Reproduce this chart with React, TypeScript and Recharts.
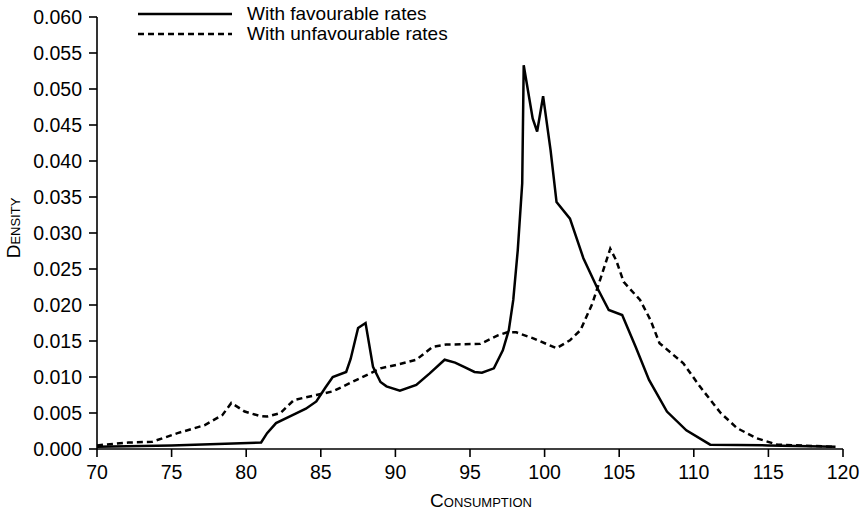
import React from 'react';
import { LineChart, Line, XAxis, YAxis, Legend } from 'recharts';

const favX = [70, 75, 81.0, 81.4, 82.0, 83.0, 84.0, 84.7, 85.3, 85.8, 86.7, 87.0, 87.5, 88.0, 88.5, 89.0, 89.4, 90.3, 91.4, 92.3, 93.3, 94.0, 94.6, 95.3, 95.8, 96.6, 97.2, 97.6, 97.9, 98.2, 98.5, 98.6, 99.2, 99.5, 99.9, 100.4, 100.8, 101.7, 102.6, 103.5, 104.3, 105.2, 106.1, 107.0, 108.2, 109.5, 111.1, 115, 119.5];
const favY = [0.0003, 0.0005, 0.0009, 0.0022, 0.0036, 0.0046, 0.0056, 0.0066, 0.0085, 0.0100, 0.0107, 0.0125, 0.0168, 0.0175, 0.0114, 0.0093, 0.0087, 0.0081, 0.0089, 0.0105, 0.0124, 0.0120, 0.0114, 0.0107, 0.0106, 0.0112, 0.0137, 0.0165, 0.0207, 0.0276, 0.0369, 0.0533, 0.0459, 0.0441, 0.0490, 0.0415, 0.0343, 0.0320, 0.0265, 0.0225, 0.0193, 0.0186, 0.0142, 0.0096, 0.0052, 0.0026, 0.0006, 0.0005, 0.0003];

const unfX = [70, 72.1, 73.7, 75.4, 77.2, 78.4, 79.0, 79.9, 80.9, 81.4, 82.3, 83.2, 84.7, 85.8, 87.4, 89.0, 90.3, 91.4, 92.5, 93.4, 95.7, 96.9, 97.5, 98.1, 99.2, 100.8, 101.7, 102.4, 103.2, 103.8, 104.4, 104.8, 105.3, 106.4, 107.1, 107.7, 109.3, 110.4, 111.8, 112.9, 114.2, 115.6, 119.5];
const unfY = [0.0005, 0.0009, 0.0010, 0.0022, 0.0033, 0.0047, 0.0064, 0.0052, 0.0046, 0.0045, 0.0050, 0.0068, 0.0075, 0.0080, 0.0096, 0.0112, 0.0118, 0.0124, 0.0142, 0.0145, 0.0146, 0.0158, 0.0162, 0.0162, 0.0154, 0.0140, 0.0151, 0.0165, 0.0202, 0.0240, 0.0278, 0.0262, 0.0232, 0.0207, 0.0179, 0.0147, 0.0119, 0.0087, 0.0050, 0.0029, 0.0015, 0.0006, 0.0003];

const xTicks = [70, 75, 80, 85, 90, 95, 100, 105, 110, 115, 120];
const yTicks = [0, 0.005, 0.01, 0.015, 0.02, 0.025, 0.03, 0.035, 0.04, 0.045, 0.05, 0.055, 0.06];

const seriesNames = ['With favourable rates', 'With unfavourable rates'];

const favData = favX.map((x, i) => ({ x, y: favY[i] }));
const unfData = unfX.map((x, i) => ({ x, y: unfY[i] }));

const FONT = '"Liberation Sans", Arial, Helvetica, sans-serif';

const LegendContent = (props: any) => {
  const payload = props.payload || [];
  return (
    <svg width={520} height={46} style={{ display: 'block', overflow: 'visible' }}>
      {payload.map((entry: any, i: number) => {
        const dash = entry?.payload?.strokeDasharray;
        const cy = 14 + i * 20;
        return (
          <g key={i}>
            <line x1={138} x2={232} y1={cy} y2={cy} stroke="#000" strokeWidth={2.5} strokeDasharray={dash} />
            <text x={247} y={cy + 6} fontSize={19} fontFamily={FONT} fill="#000">{entry.value}</text>
          </g>
        );
      })}
    </svg>
  );
};

const YLabel = (props: any) => {
  const vb = props.viewBox || { x: 0, y: 17, width: 97, height: 432 };
  const cx = vb.x + 13;
  const cy = vb.y + vb.height / 2 - 5;
  return (
    <text x={cx} y={cy} transform={`rotate(-90 ${cx} ${cy})`} textAnchor="middle" dominantBaseline="central"
      fontSize={19} fontFamily={FONT} fill="#000" style={{ fontVariant: 'small-caps' }}>Density</text>
  );
};

const XLabel = (props: any) => {
  const vb = props.viewBox || { x: 97, y: 449, width: 746, height: 62 };
  const cx = vb.x + vb.width / 2 + 11;
  const cy = vb.y + 58;
  return (
    <text x={cx} y={cy} textAnchor="middle" fontSize={19} fontFamily={FONT} fill="#000"
      style={{ fontVariant: 'small-caps' }}>Consumption</text>
  );
};

export default function App() {
  return (
    <div style={{ position: 'absolute', left: 0, top: 0, width: 861, height: 511, background: '#fff' }}>
      <LineChart width={861} height={511} margin={{ top: 17, right: 18, left: 0, bottom: 0 }}>
        <XAxis
          type="number"
          dataKey="x"
          domain={[70, 120]}
          ticks={xTicks}
          allowDataOverflow
          height={62}
          tickSize={8}
          tickMargin={8}
          axisLine={{ stroke: '#000', strokeWidth: 1.6 }}
          tickLine={{ stroke: '#000', strokeWidth: 1.6 }}
          tick={{ fill: '#000', fontSize: 19.5, fontFamily: FONT }}
          label={<XLabel />}
        />
        <YAxis
          type="number"
          dataKey="y"
          domain={[0, 0.06]}
          ticks={yTicks}
          allowDataOverflow
          width={97}
          tickSize={8}
          tickMargin={7}
          tickFormatter={(v: number) => v.toFixed(3)}
          axisLine={{ stroke: '#000', strokeWidth: 1.6 }}
          tickLine={{ stroke: '#000', strokeWidth: 1.6 }}
          tick={{ fill: '#000', fontSize: 19.5, fontFamily: FONT }}
          label={<YLabel />}
        />
        <Legend
          verticalAlign="top"
          content={<LegendContent />}
          wrapperStyle={{ position: 'absolute', top: 0, left: 0, width: 520, height: 0, overflow: 'visible' }}
        />
        <Line data={favData} dataKey="y" name={seriesNames[0]} type="linear" stroke="#000" strokeWidth={2.5}
          dot={false} activeDot={false} isAnimationActive={false} />
        <Line data={unfData} dataKey="y" name={seriesNames[1]} type="linear" stroke="#000" strokeWidth={2.5}
          strokeDasharray="6 4" dot={false} activeDot={false} isAnimationActive={false} />
      </LineChart>
    </div>
  );
}
